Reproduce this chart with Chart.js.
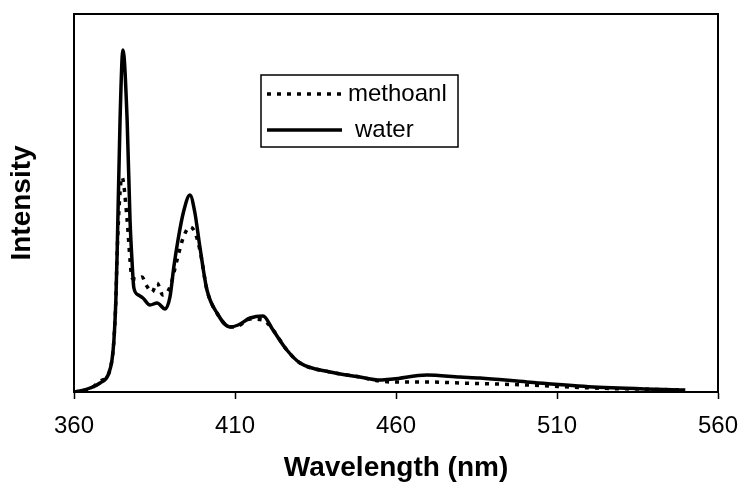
<!DOCTYPE html>
<html>
<head>
<meta charset="utf-8">
<script src="https://cdn.jsdelivr.net/npm/chart.js@4/dist/chart.umd.min.js"></script>
<style>
  html, body { margin: 0; padding: 0; background: #fff; }
  #wrap { width: 743px; height: 485px; }
</style>
</head>
<body>
<div id="wrap"><canvas id="c" width="743" height="485"></canvas></div>
<script>
// Emission spectra: wavelength (nm) and relative intensity for each solvent
const methanolWavelength = [360, 361.9, 365, 368.1, 370.6, 371.8, 372.4, 373, 373.4, 374.3, 374.9, 376.5, 377.4, 378, 379.6, 381.1, 382.6, 384.2, 385.8, 387.6, 389.8, 392, 394, 396, 397.5, 399.1, 401.3, 404.4, 408.4, 411, 414.7, 418.7, 421.8, 426.1, 430.2, 439.5, 448.8, 455, 459.1, 469.6, 479.9, 500.7, 521.2, 549.8];
const methanolIntensity  = [0, 1, 3, 11, 17, 32, 52, 92, 139, 200, 215, 172, 132, 114, 113, 115, 106, 100, 109, 97, 105, 132, 155, 165, 160, 142, 102, 79, 65, 66, 73, 72, 62, 42, 29, 20, 15, 11, 10, 10, 9, 7, 4, 2];

const waterWavelength = [360, 361.9, 365, 368.1, 370.6, 371.8, 372.4, 373, 373.4, 374.3, 375.2, 376.5, 377.4, 378, 378.6, 380, 381.4, 383.6, 385.8, 388.3, 389.8, 391, 392.3, 394, 396, 397.5, 399.1, 401.3, 404.4, 408.4, 411, 414.7, 418.7, 421.8, 426.1, 430.2, 439.5, 448.8, 455, 459.1, 469.6, 479.9, 486.1, 500.7, 521.2, 549.8];
const waterIntensity  = [0, 1, 4, 9, 17, 32, 52, 92, 139, 272, 342, 272, 172, 132, 104, 97, 94, 87, 89, 83, 95, 125, 152, 180, 197, 180, 145, 102, 79, 65, 67, 74, 76, 62, 42, 29, 20, 15, 12, 13, 17, 15, 14, 10, 5, 2];

const seriesLabels = ['methoanl', 'water'];
const xTicks = [360, 410, 460, 510, 560];

const toPoints = (xs, ys) => xs.map((x, i) => ({ x: x, y: ys[i] }));

// Frame around the plotting area (top and right sides included)
const frame = {
  id: 'frame',
  afterDraw(chart) {
    const { ctx, chartArea: a } = chart;
    ctx.save();
    ctx.strokeStyle = '#000';
    ctx.lineWidth = 2;
    ctx.strokeRect(a.left, a.top, a.right - a.left, a.bottom - a.top);
    ctx.restore();
  }
};

// Boxed legend inside the plot, using each dataset's own line style
const boxLegend = {
  id: 'boxLegend',
  afterDraw(chart) {
    const { ctx } = chart;
    const box = { x: 261, y: 75, w: 197, h: 72 };
    const rows = [
      { y: 94, x0: 267, x1: 341, tx: 348 },
      { y: 130, x0: 267, x1: 342, tx: 355 }
    ];
    ctx.save();
    ctx.fillStyle = '#fff';
    ctx.fillRect(box.x, box.y, box.w, box.h);
    ctx.strokeStyle = '#000';
    ctx.lineWidth = 1.5;
    ctx.strokeRect(box.x, box.y, box.w, box.h);
    chart.data.datasets.forEach((ds, i) => {
      const r = rows[i];
      ctx.beginPath();
      ctx.setLineDash(ds.borderDash || []);
      ctx.lineWidth = ds.borderWidth;
      ctx.strokeStyle = ds.borderColor;
      ctx.moveTo(r.x0, r.y);
      ctx.lineTo(r.x1, r.y);
      ctx.stroke();
      ctx.setLineDash([]);
      ctx.fillStyle = '#000';
      ctx.font = '24px "Liberation Sans", Arial, sans-serif';
      ctx.textBaseline = 'middle';
      ctx.textAlign = 'left';
      ctx.fillText(ds.label, r.tx, r.y);
    });
    ctx.restore();
  }
};

new Chart(document.getElementById('c'), {
  type: 'line',
  data: {
    datasets: [
      {
        label: seriesLabels[0],
        data: toPoints(methanolWavelength, methanolIntensity),
        borderColor: '#000',
        borderWidth: 3.5,
        borderDash: [4, 6],
        pointRadius: 0,
        fill: false,
        cubicInterpolationMode: 'monotone'
      },
      {
        label: seriesLabels[1],
        data: toPoints(waterWavelength, waterIntensity),
        borderColor: '#000',
        borderWidth: 3.5,
        pointRadius: 0,
        fill: false,
        cubicInterpolationMode: 'monotone'
      }
    ]
  },
  options: {
    responsive: false,
    animation: false,
    devicePixelRatio: 1,
    layout: { padding: { top: 14, right: 25, left: 0, bottom: 0 } },
    plugins: {
      legend: { display: false },
      tooltip: { enabled: false }
    },
    scales: {
      x: {
        type: 'linear',
        min: xTicks[0],
        max: xTicks[xTicks.length - 1],
        afterBuildTicks(scale) { scale.ticks = xTicks.map(v => ({ value: v })); },
        afterFit(scale) {
          scale.height = 93;
          scale.paddingLeft = 0;
          scale.paddingRight = 0;
        },
        ticks: {
          color: '#000',
          font: { family: '"Liberation Sans", Arial, sans-serif', size: 24 },
          padding: 13,
          maxRotation: 0
        },
        grid: {
          drawOnChartArea: false,
          drawTicks: true,
          tickLength: 7,
          tickWidth: 1.5,
          tickColor: '#000'
        },
        border: { display: true, color: '#000', width: 2 },
        title: {
          display: true,
          text: 'Wavelength (nm)',
          color: '#000',
          font: { family: '"Liberation Sans", Arial, sans-serif', size: 28, weight: 'bold' },
          padding: { top: 0, bottom: 0 }
        }
      },
      y: {
        type: 'linear',
        min: 0,
        max: 378,
        afterFit(scale) {
          scale.width = 74;
          scale.paddingTop = 0;
          scale.paddingBottom = 0;
        },
        ticks: { display: false },
        grid: { display: false },
        border: { display: true, color: '#000', width: 2 },
        title: {
          display: true,
          text: 'Intensity',
          color: '#000',
          font: { family: '"Liberation Sans", Arial, sans-serif', size: 28, weight: 'bold' },
          padding: { top: 5, bottom: 0 }
        }
      }
    }
  },
  plugins: [frame, boxLegend]
});
</script>
</body>
</html>
